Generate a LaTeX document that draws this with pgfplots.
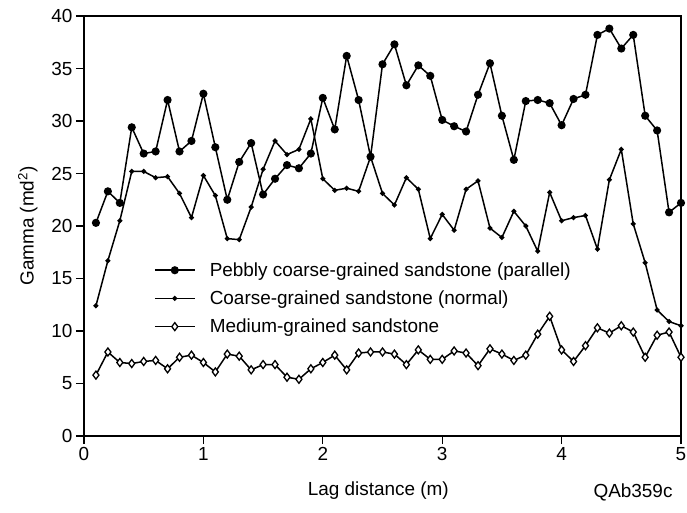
\documentclass[border=0pt]{standalone}
\usepackage{fontspec}
\setmainfont{Liberation Sans}
\usepackage{pgfplots}
\pgfplotsset{compat=1.18}

\newcommand{\labfont}{\fontsize{19}{22}\selectfont}

\begin{document}
\begin{tikzpicture}
\useasboundingbox (-84bp,-77bp) rectangle (603bp,436bp);
\begin{axis}[
  at={(0,0)}, anchor=south west,
  scale only axis,
  width=597bp, height=420bp,
  xmin=0, xmax=5, ymin=0, ymax=40,
  xtick={0,1,2,3,4,5},
  ytick={0,5,10,15,20,25,30,35,40},
  xtick pos=bottom, ytick pos=left,
  tick align=outside,
  major tick length=8bp,
  tick style={line width=1.2bp, black},
  axis line style={line width=1.6bp},
  /pgf/number format/assume math mode=true,
  tick label style={font=\labfont},
  label style={font=\labfont},
  xlabel={Lag distance (m)},
  ylabel={Gamma (md\textsuperscript{2})},
  xlabel style={at={(axis description cs:0.493,-0.131)}, anchor=center},
  ylabel style={at={(axis description cs:-0.094,0.5)}, anchor=center},
  clip=false,
  legend cell align=left,
  legend style={draw=none, fill=none, font=\labfont,
    at={(axis description cs:0.117,0.418)}, anchor=north west,
    row sep=9bp, inner sep=0pt},
  legend image code/.code={%
    \draw[mark repeat=2, mark phase=2, #1]
      plot coordinates {(0bp,0bp) (20bp,0bp) (40bp,0bp)};
    \path[draw=none, fill=none] (0bp,0bp) -- (53bp,0bp);},
  every axis plot/.append style={line width=1.5bp, black},
]

% Pebbly coarse-grained sandstone, parallel to bedding
\addplot[mark=*, mark size=3.3bp, mark options={fill=black}] coordinates {
(0.1,20.3) (0.2,23.3) (0.3,22.2) (0.4,29.4) (0.5,26.9) (0.6,27.1) (0.7,32.0) (0.8,27.1) (0.9,28.1) (1.0,32.6)
(1.1,27.5) (1.2,22.5) (1.3,26.1) (1.4,27.9) (1.5,23.0) (1.6,24.5) (1.7,25.8) (1.8,25.5) (1.9,26.9) (2.0,32.2)
(2.1,29.2) (2.2,36.2) (2.3,32.0) (2.4,26.6) (2.5,35.4) (2.6,37.3) (2.7,33.4) (2.8,35.3) (2.9,34.3) (3.0,30.1)
(3.1,29.5) (3.2,29.0) (3.3,32.5) (3.4,35.5) (3.5,30.5) (3.6,26.3) (3.7,31.9) (3.8,32.0) (3.9,31.7) (4.0,29.6)
(4.1,32.1) (4.2,32.5) (4.3,38.2) (4.4,38.8) (4.5,36.9) (4.6,38.2) (4.7,30.5) (4.8,29.1) (4.9,21.3) (5.0,22.2)
};
\addlegendentry{Pebbly coarse-grained sandstone (parallel)}

% Coarse-grained sandstone, normal to bedding
\addplot[mark=*, mark size=1.7bp, mark options={fill=black}] coordinates {
(0.1,12.4) (0.2,16.7) (0.3,20.5) (0.4,25.2) (0.5,25.2) (0.6,24.6) (0.7,24.7) (0.8,23.1) (0.9,20.8) (1.0,24.8)
(1.1,22.9) (1.2,18.8) (1.3,18.7) (1.4,21.8) (1.5,25.4) (1.6,28.1) (1.7,26.8) (1.8,27.3) (1.9,30.2) (2.0,24.5)
(2.1,23.4) (2.2,23.6) (2.3,23.3) (2.4,26.6) (2.5,23.1) (2.6,22.0) (2.7,24.6) (2.8,23.5) (2.9,18.8) (3.0,21.1)
(3.1,19.6) (3.2,23.5) (3.3,24.3) (3.4,19.8) (3.5,18.9) (3.6,21.4) (3.7,20.0) (3.8,17.6) (3.9,23.2) (4.0,20.5)
(4.1,20.8) (4.2,21.0) (4.3,17.8) (4.4,24.4) (4.5,27.3) (4.6,20.2) (4.7,16.5) (4.8,12.0) (4.9,10.9) (5.0,10.5)
};
\addlegendentry{Coarse-grained sandstone (normal)}

% Medium-grained sandstone
\addplot[mark=diamond*, mark size=4bp, mark options={fill=white, line width=1.3bp}] coordinates {
(0.1,5.8) (0.2,8.0) (0.3,7.0) (0.4,6.9) (0.5,7.1) (0.6,7.2) (0.7,6.4) (0.8,7.5) (0.9,7.7) (1.0,7.0)
(1.1,6.1) (1.2,7.8) (1.3,7.6) (1.4,6.3) (1.5,6.8) (1.6,6.8) (1.7,5.6) (1.8,5.4) (1.9,6.4) (2.0,7.0)
(2.1,7.7) (2.2,6.3) (2.3,7.9) (2.4,8.0) (2.5,8.0) (2.6,7.8) (2.7,6.8) (2.8,8.2) (2.9,7.3) (3.0,7.3)
(3.1,8.1) (3.2,7.9) (3.3,6.7) (3.4,8.3) (3.5,7.8) (3.6,7.2) (3.7,7.7) (3.8,9.7) (3.9,11.4) (4.0,8.2)
(4.1,7.1) (4.2,8.6) (4.3,10.3) (4.4,9.8) (4.5,10.5) (4.6,9.9) (4.7,7.5) (4.8,9.6) (4.9,9.9) (5.0,7.5)
};
\addlegendentry{Medium-grained sandstone}

\end{axis}
\node[anchor=east, font=\labfont] at (592bp,-56bp) {QAb359c};
\end{tikzpicture}
\end{document}
